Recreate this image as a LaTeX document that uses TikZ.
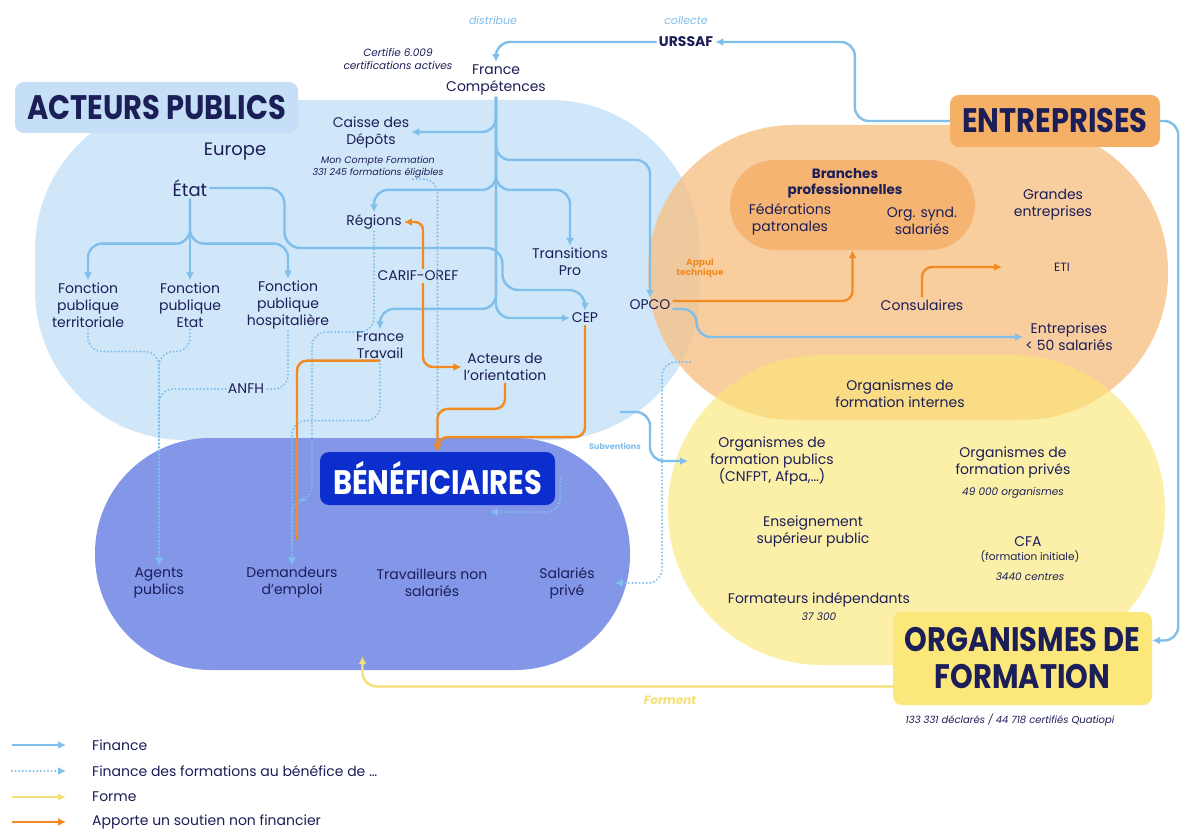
\documentclass[tikz,border=0pt]{standalone}
\usepackage{graphicx}
\usepackage{fontspec}
\setmainfont{Poppins}
\usetikzlibrary{arrows.meta}

\definecolor{marine}{RGB}{28,30,88}
\definecolor{finbleu}{RGB}{128,190,236}
\definecolor{orangeap}{RGB}{242,138,32}
\definecolor{jauneforme}{RGB}{245,224,118}
\definecolor{pubfond}{RGB}{207,231,249}
\definecolor{pubtitre}{RGB}{196,223,246}
\definecolor{entfond}{RGB}{248,194,136}
\definecolor{enttitre}{RGB}{245,176,102}
\definecolor{brfond}{RGB}{245,180,114}
\definecolor{offond}{RGB}{250,230,113}
\definecolor{oftitre}{RGB}{251,231,122}
\definecolor{benfond}{RGB}{131,150,232}
\definecolor{bentitre}{RGB}{12,46,204}

\newcommand{\grandtitre}[1]{\scalebox{0.85}[1]{#1}}

\begin{document}
\begin{tikzpicture}[x=1pt,y=-1pt,
		lbl/.style={text=marine, align=center, inner sep=2pt, font=\fontsize{14}{17}\selectfont},
		big/.style={lbl, font=\fontsize{18}{21}\selectfont},
		note/.style={text=marine, align=center, inner sep=1pt, font=\fontsize{10.5}{13}\selectfont\itshape},
		mot/.style={text=finbleu, inner sep=1pt, font=\fontsize{11}{13}\selectfont\itshape},
		titre/.style={rounded corners=9pt, inner sep=0pt, text=marine, align=center, font=\fontsize{34}{37}\selectfont\bfseries},
		zone/.style={rectangle, inner sep=0pt},
		fin/.style={draw=finbleu, line width=2.4pt, rounded corners=14pt, -{Latex[length=8pt,width=8pt]}},
		finform/.style={fin, line width=2.2pt, line cap=round, dash pattern=on 0pt off 3.6pt},
		forme/.style={fin, draw=jauneforme},
		appui/.style={fin, draw=orangeap, rounded corners=10pt}]
		\fill[white] (0,0) rectangle (1182,829);
		\useasboundingbox (0,0) rectangle (1182,829);
		
		% grandes zones
		\node (pubzone) at (367.5,270) [zone, fill=pubfond, rounded corners=150pt, minimum width=665pt, minimum height=340pt] {};
		\node (benzone) at (362.5,554) [zone, fill=benfond, rounded corners=115pt, minimum width=535pt, minimum height=232pt] {};
		\node (entzone) at (908,272.5) [zone, fill=entfond, fill opacity=0.8, rounded corners=146pt, minimum width=520pt, minimum height=295pt] {};
		\node (ofzone) at (916.5,510) [zone, fill=offond, fill opacity=0.6, rounded corners=154pt, minimum width=497pt, minimum height=310pt] {};
		\node (bp) at (852.5,205) [zone, fill=brfond, rounded corners=45pt, minimum width=245pt, minimum height=90pt] {};
		
		% titres
		\node (pubtitle) at (156.5,107.5) [titre, fill=pubtitre, minimum width=283pt, minimum height=51pt] {\grandtitre{ACTEURS PUBLICS}};
		\node (enttitle) at (1055,121) [titre, fill=enttitre, minimum width=210pt, minimum height=52pt] {\grandtitre{ENTREPRISES}};
		\node (bentitle) at (437.5,478.5) [titre, fill=bentitre, text=white, minimum width=235pt, minimum height=53pt] {\grandtitre{BÉNÉFICIAIRES}};
		\node (oftitle) at (1022.5,658.5) [titre, fill=oftitre, minimum width=259pt, minimum height=93pt] {\grandtitre{ORGANISMES DE}\\\grandtitre{FORMATION}};
		
		% acteurs publics
		\node (distribue) at (493,20) [mot] {distribue};
		\node (collecte) at (686,20) [mot] {collecte};
		\node (urssaf) at (686,42) [lbl, font=\fontsize{14}{17}\selectfont\bfseries] {URSSAF};
		\node (certif) at (398,59) [note] {Certifie 6.009\\certifications actives};
		\node (fc) at (496,79.5) [lbl] {France\\Compétences};
		\node (cdd) at (371,132) [lbl] {Caisse des\\Dépôts};
		\node (mcf) at (378,167) [note, font=\fontsize{9.5}{12}\selectfont\itshape] {Mon Compte Formation\\331 245 formations éligibles};
		\node (europe) at (235,152) [big] {Europe};
		\node (etat) at (190,188) [big] {État};
		\node (reg) at (374,222) [lbl] {Régions};
		\node (tp) at (570,262) [lbl] {Transitions\\Pro};
		\node (carif) at (418,276) [lbl] {CARIF-OREF};
		\node (fpt) at (88,305) [lbl] {Fonction\\publique\\territoriale};
		\node (fpe) at (190,305) [lbl] {Fonction\\publique\\Etat};
		\node (fph) at (288,305) [lbl] {Fonction\\publique\\hospitalière};
		\node (opco) at (650,305) [lbl] {OPCO};
		\node (cep) at (585,318) [lbl] {CEP};
		\node (ft) at (380,345) [lbl] {France\\Travail};
		\node (aor) at (505,367) [lbl] {Acteurs de\\l’orientation};
		\node (anfh) at (246,389) [lbl] {ANFH};
		\node (appuitech) at (700,268) [text=orangeap, align=center, inner sep=0pt, font=\fontsize{9}{10}\selectfont\bfseries] {Appui\\technique};
		
		% entreprises
		\node (bptitre) at (845,183) [lbl, font=\fontsize{13.5}{16}\selectfont\bfseries] {Branches\\professionnelles};
		\node (fed) at (790,219) [lbl] {Fédérations\\patronales};
		\node (osyn) at (922,221) [lbl] {Org. synd.\\salariés};
		\node (ge) at (1053,205) [lbl] {Grandes\\entreprises};
		\node (eti) at (1062,267) [lbl, font=\fontsize{12}{14}\selectfont] {ETI};
		\node (cons) at (922,305) [lbl] {Consulaires};
		\node (ent50) at (1069,337) [lbl] {Entreprises\\< 50 salariés};
		
		% organismes de formation
		\node (ofi) at (900,394) [lbl] {Organismes de\\formation internes};
		\node (ofp) at (772,461) [lbl] {Organismes de\\formation publics\\(CNFPT, Afpa,…)};
		\node (ofpr) at (1013,462) [lbl] {Organismes de\\formation privés};
		\node (ofprnb) at (1013,493) [note] {49 000 organismes};
		\node (esp) at (813,531) [lbl] {Enseignement\\supérieur public};
		\node (cfa) at (1028,542) [lbl] {CFA};
		\node (cfaini) at (1030,557) [lbl, font=\fontsize{10.5}{12}\selectfont] {(formation initiale)};
		\node (cfanb) at (1030,577) [note] {3440 centres};
		\node (findep) at (819,600) [lbl] {Formateurs indépendants};
		\node (findepnb) at (819,617) [note] {37 300};
		\node (ofnb) at (1010,720) [note, font=\fontsize{10}{12}\selectfont\itshape] {133 331 déclarés / 44 718 certifiés Quatiopi};
		
		% beneficiaires
		\node (ap) at (159,583) [lbl] {Agents\\publics};
		\node (dem) at (292,583) [lbl] {Demandeurs\\d’emploi};
		\node (tns) at (432,583) [lbl] {Travailleurs non\\salariés};
		\node (sp) at (567,583) [lbl] {Salariés\\privé};
		
		\node (subv) at (615,446) [text=finbleu, inner sep=0pt, font=\fontsize{8}{9}\selectfont\bfseries] {Subventions};
		\node (forment) at (670,700) [text=jauneforme, inner sep=0pt, font=\fontsize{12}{14}\selectfont\bfseries\itshape] {Forment};
		\coordinate (subvdepart) at (620,412);
		\coordinate (entdepart) at (690,362);
		\coordinate (benretour) at (490,512);
		
		% finance
		\draw[fin] (enttitle.west) -- ++(-95,0) |- (urssaf.east);
		\draw[fin] (enttitle.east) -- ++(18,0) |- ([yshift=18pt]oftitle.east);
		\draw[fin] (urssaf.west) -| (fc.north);
		\draw[fin] (fc.south) |- (cdd.east);
		\draw[fin] (fc.south) -- ++(0,63) -| (opco.north);
		\draw[fin] (fc.south) -- ++(0,93) -| (tp.north);
		\draw[fin] (fc.south) -- ++(0,93) -| (reg.north);
		\draw[fin] (fc.south) -- ++(0,212) -| (ft.north);
		\draw[fin] (fc.south) |- (cep.west);
		\draw[fin] (etat.south) -- ++(0,45) -| (fpt.north);
		\draw[fin] (etat.south) -- (fpe.north);
		\draw[fin] (etat.south) -- ++(0,45) -| (fph.north);
		\draw[fin, rounded corners=16pt] (etat.east) -- ++(75,0) -- ++(0,60) -- ++(218,0) -- ++(0,42) -| (cep.north);
		\draw[fin] ([yshift=-4pt]opco.east) -- ++(24,0) |- (ent50.west);
		\draw[fin, shorten >=20pt] (subvdepart) -- ++(30,0) |- (ofp.west);
		
		% finance des formations
		\draw[finform] ([xshift=35pt]mcf.south) -| (bentitle.north);
		\draw[finform] (reg.south) |- (312,332) -- (312,500) -| (dem.north);
		\draw[finform] (ft.south) -- ++(0,60) -| (dem.north);
		\draw[finform] (fpt.south) -- ++(0,22) -| (ap.north);
		\draw[finform] (fpe.south) -- ++(0,22) -| (ap.north);
		\draw[finform, -] (fph.south) |- (anfh.east);
		\draw[finform] (anfh.west) -| (ap.north);
		\draw[finform] ([xshift=5pt]bentitle.east) |- (benretour);
		\draw[finform, shorten >=18pt] (entdepart) -- ++(-28,0) |- (sp.east);
		
		% soutien non financier
		\draw[appui, rounded corners=8pt] ([xshift=5pt]carif.north) |- (reg.east);
		\draw[appui] ([xshift=5pt]carif.south) |- (aor.west);
		\draw[appui] ([yshift=4pt]opco.east) -| (bp.south);
		\draw[appui, shorten >=50pt] (cons.north) |- (eti.west);
		\draw[appui] (cep.south) -- ++(0,112) -| (bentitle.north);
		\draw[appui] (aor.south) -- ++(0,26) -| (bentitle.north);
		\draw[appui, -] (ft.south) -| ([xshift=5pt,yshift=25pt]dem.north);
		
		% forme
		\draw[forme] ([yshift=-28pt]oftitle.west) -| ([yshift=14pt]benzone.south);
		
		% legende
		\node (lg1) at (90,745) [lbl, anchor=west] {Finance};
		\node (lg2) at (90,771) [lbl, anchor=west] {Finance des formations au bénéfice de …};
		\node (lg3) at (90,797) [lbl, anchor=west] {Forme};
		\node (lg4) at (90,822) [lbl, anchor=west] {Apporte un soutien non financier};
		\coordinate (lk1) at (12,745);
		\coordinate (lk2) at (12,771);
		\coordinate (lk3) at (12,797);
		\coordinate (lk4) at (12,822);
		\draw[fin, shorten >=24pt] (lk1) -- (lg1.west);
		\draw[finform, shorten >=24pt] (lk2) -- (lg2.west);
		\draw[forme, shorten >=24pt] (lk3) -- (lg3.west);
		\draw[appui, shorten >=24pt] (lk4) -- (lg4.west);
	\end{tikzpicture}
\end{document}
